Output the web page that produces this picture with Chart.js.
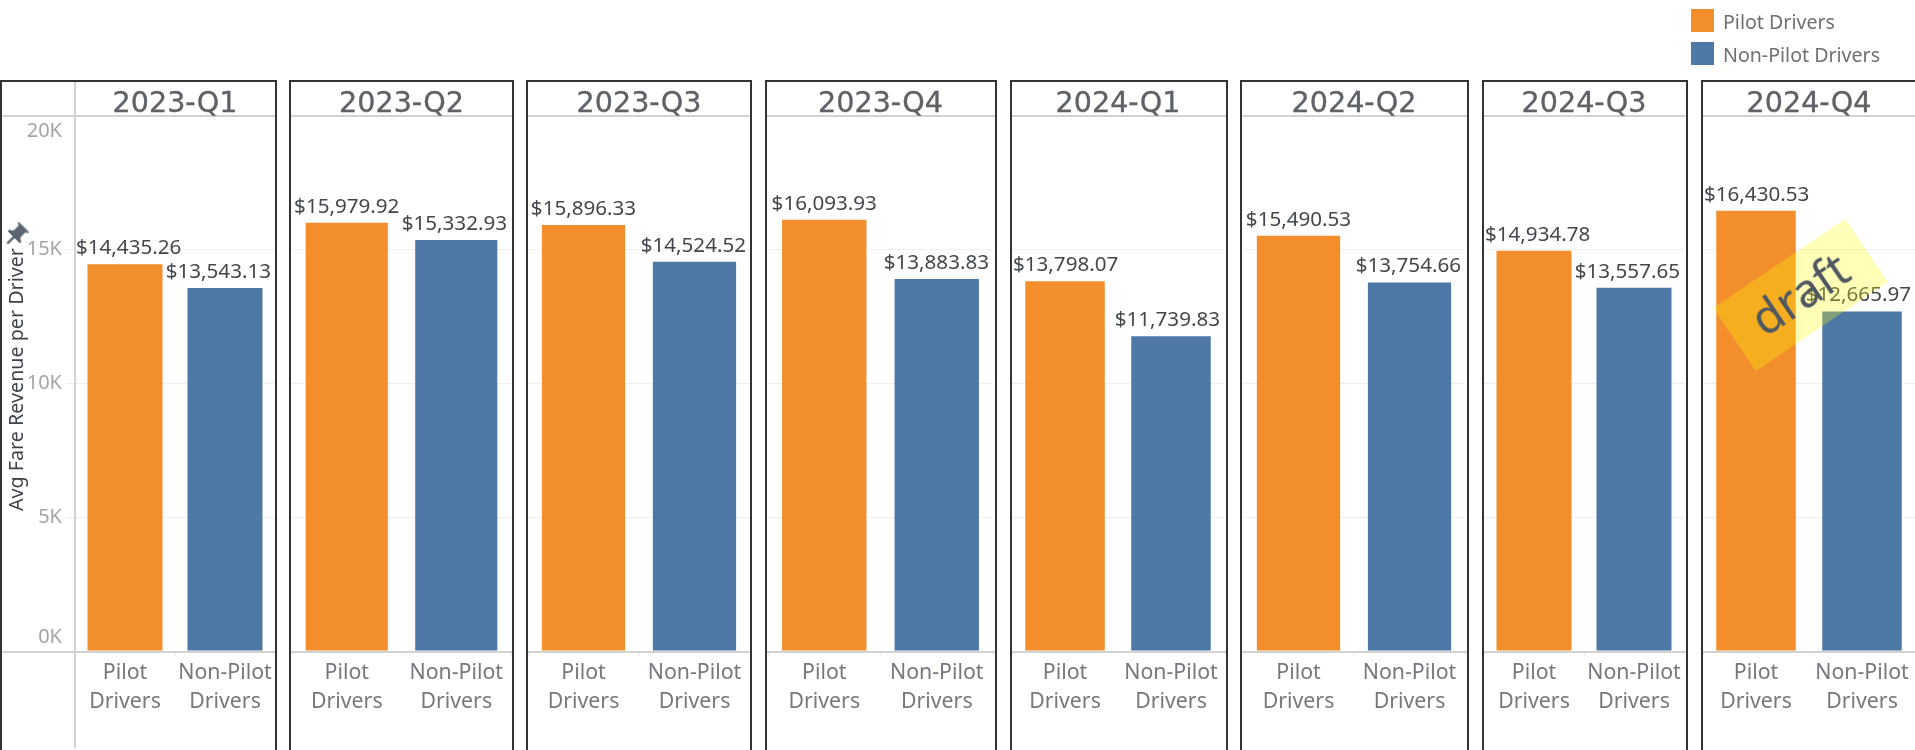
<!DOCTYPE html>
<html>
<head>
<meta charset="utf-8">
<title>Avg Fare Revenue per Driver</title>
<script src="https://cdn.jsdelivr.net/npm/chart.js@4/dist/chart.umd.min.js"></script>
<style>
  html, body { margin: 0; padding: 0; background: #fff; overflow: hidden; width: 1915px; height: 750px; }
  #page { position: relative; width: 1915px; height: 750px; overflow: hidden; font-family: "Noto Sans", sans-serif; filter: blur(0.4px); }
  canvas { position: absolute; display: block; }
  .swatch { position: absolute; left: 1691px; width: 23px; height: 23px; }
  .legend-text { position: absolute; left: 1723px; font-size: 19.6px; line-height: 23px; color: #707070; white-space: nowrap; }
  #pin { position: absolute; left: 1px; top: 221px; width: 29px; height: 29px; transform: rotate(45deg); }
  #draft {
    position: absolute; left: 1721px; top: 257px; width: 159px; height: 76px;
    transform: rotate(-34deg); background: rgba(255, 255, 0, 0.28);
    color: #4f5860; font-size: 47px; line-height: 72px; text-align: center;
  }
</style>
</head>
<body>
<div id="page"></div>
<script>
// data
const quarters = ["2023-Q1", "2023-Q2", "2023-Q3", "2023-Q4", "2024-Q1", "2024-Q2", "2024-Q3", "2024-Q4"];
const pilotRevenue = [14435.26, 15979.92, 15896.33, 16093.93, 13798.07, 15490.53, 14934.78, 16430.53];
const nonPilotRevenue = [13543.13, 15332.93, 14524.52, 13883.83, 11739.83, 13754.66, 13557.65, 12665.97];
const seriesNames = ["Pilot Drivers", "Non-Pilot Drivers"];
const categoryLabels = [["Pilot", "Drivers"], ["Non-Pilot", "Drivers"]];
const yTickLabels = ["0K", "5K", "10K", "15K", "20K"];
const yAxisTitle = "Avg Fare Revenue per Driver";

const ORANGE = "#f28e2b";
const BLUE = "#4e79a7";
const FONT = '"Noto Sans", sans-serif';

// panel boxes: frame left/right and plot left/right, in page pixels
const panels = [
  { fl: 1, fr: 276, pl: 75, pr: 275 },
  { fl: 290, fr: 513, pl: 292, pr: 511 },
  { fl: 527, fr: 751, pl: 528, pr: 750 },
  { fl: 766, fr: 996, pl: 768, pr: 993 },
  { fl: 1011, fr: 1227, pl: 1012, pr: 1224 },
  { fl: 1241, fr: 1468, pl: 1243, pr: 1465 },
  { fl: 1483, fr: 1687, pl: 1484, pr: 1684 },
  { fl: 1702, fr: 1935, pl: 1703, pr: 1915 }
];

const FRAME_TOP = 81, HEADER_Y = 116, BASE_Y = 652, AXIS_TOP = 115, AXIS_BOTTOM = 651, CANVAS_TOP = 79, PAGE_H = 750;

const page = document.getElementById("page");

// frame, header line, baseline and quarter title of each panel
const panelPlugin = {
  id: "panelDecor",
  beforeDraw(chart, args, opts) {
    // Tableau pushes the first and last axis labels inside the pane
    const y = chart.scales.y;
    if (opts.index !== 0) return;
    const items = y.getLabelItems();
    items.forEach(item => {
      if (item.label === yTickLabels[0]) item.options.translation[1] -= 14;
      if (item.label === yTickLabels[yTickLabels.length - 1]) item.options.translation[1] += 16;
    });
  },
  afterDraw(chart, args, opts) {
    const ctx = chart.ctx;
    const p = panels[opts.index];
    const ox = opts.left;
    const oy = CANVAS_TOP;
    ctx.save();

    ctx.strokeStyle = "#d2d2d2";
    ctx.lineWidth = 2;
    ctx.beginPath();
    ctx.moveTo(p.fl - ox, HEADER_Y - oy);
    ctx.lineTo(p.fr - ox, HEADER_Y - oy);
    ctx.moveTo(p.fl - ox, BASE_Y - oy);
    ctx.lineTo(p.fr - ox, BASE_Y - oy);
    if (opts.index === 0) {
      ctx.moveTo(p.pl - ox, FRAME_TOP - oy);
      ctx.lineTo(p.pl - ox, PAGE_H - oy - 2);
    }
    ctx.stroke();

    ctx.strokeStyle = "#333333";
    ctx.lineWidth = 2;
    ctx.beginPath();
    ctx.moveTo(p.fl - ox, PAGE_H);
    ctx.lineTo(p.fl - ox, FRAME_TOP - oy);
    ctx.lineTo(p.fr - ox, FRAME_TOP - oy);
    ctx.lineTo(p.fr - ox, PAGE_H);
    ctx.stroke();

    // header text is heavier than regular, a thin stroke thickens it
    const headerX = (chart.chartArea.left + chart.chartArea.right) / 2;
    ctx.fillStyle = "#5e6266";
    ctx.strokeStyle = "#5e6266";
    ctx.lineWidth = 0.35;
    ctx.font = '28.6px "DejaVu Sans", sans-serif';
    ctx.textAlign = "center";
    ctx.textBaseline = "middle";
    ctx.fillText(quarters[opts.index], headerX, 104.5 - oy);
    ctx.strokeText(quarters[opts.index], headerX, 104.5 - oy);

    if (opts.index === 0) {
      ctx.translate(17, 379.5 - oy);
      ctx.rotate(-Math.PI / 2);
      ctx.fillStyle = "#3f4348";
      ctx.font = "19.7px " + FONT;
      ctx.fillText(yAxisTitle, 0, 0);
    }
    ctx.restore();
  }
};

// dollar labels over the bars, kept inside the pane like the original
const valueLabelPlugin = {
  id: "valueLabels",
  afterDatasetsDraw(chart) {
    const ctx = chart.ctx;
    const area = chart.chartArea;
    const meta = chart.getDatasetMeta(0);
    ctx.save();
    ctx.fillStyle = "#43474b";
    ctx.font = "20.6px " + FONT;
    ctx.textAlign = "center";
    ctx.textBaseline = "middle";
    meta.data.forEach((bar, i) => {
      const value = chart.data.datasets[0].data[i];
      const text = "$" + value.toLocaleString("en-US", { minimumFractionDigits: 2, maximumFractionDigits: 2 });
      const half = ctx.measureText(text).width / 2;
      const x = Math.min(Math.max(bar.x, area.left + half + 1), area.right - half - 4);
      ctx.fillText(text, x, bar.y - 16);
    });
    ctx.restore();
  }
};

quarters.forEach((quarter, i) => {
  const p = panels[i];
  const left = i === 0 ? 0 : p.fl - 2;
  const right = Math.min(p.fr + 2, 1915);
  const canvas = document.createElement("canvas");
  canvas.width = right - left;
  canvas.height = PAGE_H - CANVAS_TOP;
  canvas.style.left = left + "px";
  canvas.style.top = CANVAS_TOP + "px";
  page.appendChild(canvas);

  new Chart(canvas.getContext("2d"), {
    type: "bar",
    data: {
      labels: categoryLabels,
      datasets: [{
        label: quarter,
        data: [pilotRevenue[i], nonPilotRevenue[i]],
        backgroundColor: [ORANGE, BLUE],
        barPercentage: 0.75,
        categoryPercentage: 1
      }]
    },
    plugins: [panelPlugin, valueLabelPlugin],
    options: {
      responsive: false,
      animation: false,
      layout: {
        padding: {
          top: AXIS_TOP - CANVAS_TOP,
          left: i === 0 ? 0 : p.pl - left,
          right: right - p.pr,
          bottom: 0
        }
      },
      plugins: {
        legend: { display: false },
        tooltip: { enabled: false },
        panelDecor: { index: i, left: left }
      },
      scales: {
        x: {
          border: { display: false },
          grid: { drawOnChartArea: false, tickLength: 4, color: "#e6e6e6" },
          ticks: {
            maxRotation: 0,
            minRotation: 0,
            autoSkip: false,
            padding: 3,
            color: "#75787c",
            font: { family: FONT, size: 21.3, lineHeight: 1.38 }
          },
          afterFit: scale => { scale.height = PAGE_H - AXIS_BOTTOM; }
        },
        y: {
          min: 0,
          max: 20000,
          border: { display: false },
          grid: {
            color: ctx => (ctx.tick.value === 0 || ctx.tick.value === 20000) ? "rgba(0,0,0,0)" : "#efefef",
            drawTicks: i === 0,
            tickLength: 9
          },
          ticks: {
            display: i === 0,
            stepSize: 5000,
            padding: 4,
            color: "#a3a6a9",
            font: { family: FONT, size: 20 },
            callback: (value, index) => yTickLabels[index]
          },
          afterFit: scale => { scale.width = i === 0 ? p.pl : 0; }
        }
      }
    }
  });
});

// legend
seriesNames.forEach((name, i) => {
  const swatch = document.createElement("div");
  swatch.className = "swatch";
  swatch.style.top = (9 + i * 32.5) + "px";
  swatch.style.background = i === 0 ? ORANGE : BLUE;
  page.appendChild(swatch);
  const text = document.createElement("div");
  text.className = "legend-text";
  text.style.top = (10 + i * 32.5) + "px";
  text.textContent = name;
  page.appendChild(text);
});

// pin icon next to the axis title
const pin = document.createElementNS("http://www.w3.org/2000/svg", "svg");
pin.setAttribute("id", "pin");
pin.setAttribute("viewBox", "0 0 24 24");
pin.innerHTML = '<path fill="#5a6570" d="M16 9V4h1c.55 0 1-.45 1-1s-.45-1-1-1H7c-.55 0-1 .45-1 1s.45 1 1 1h1v5c0 1.66-1.34 3-3 3v2h5.97v7l1 1 1-1v-7H19v-2c-1.66 0-3-1.34-3-3z"/>';
page.appendChild(pin);

// draft stamp over the last panel
const draft = document.createElement("div");
draft.id = "draft";
draft.textContent = "draft";
page.appendChild(draft);
</script>
</body>
</html>
